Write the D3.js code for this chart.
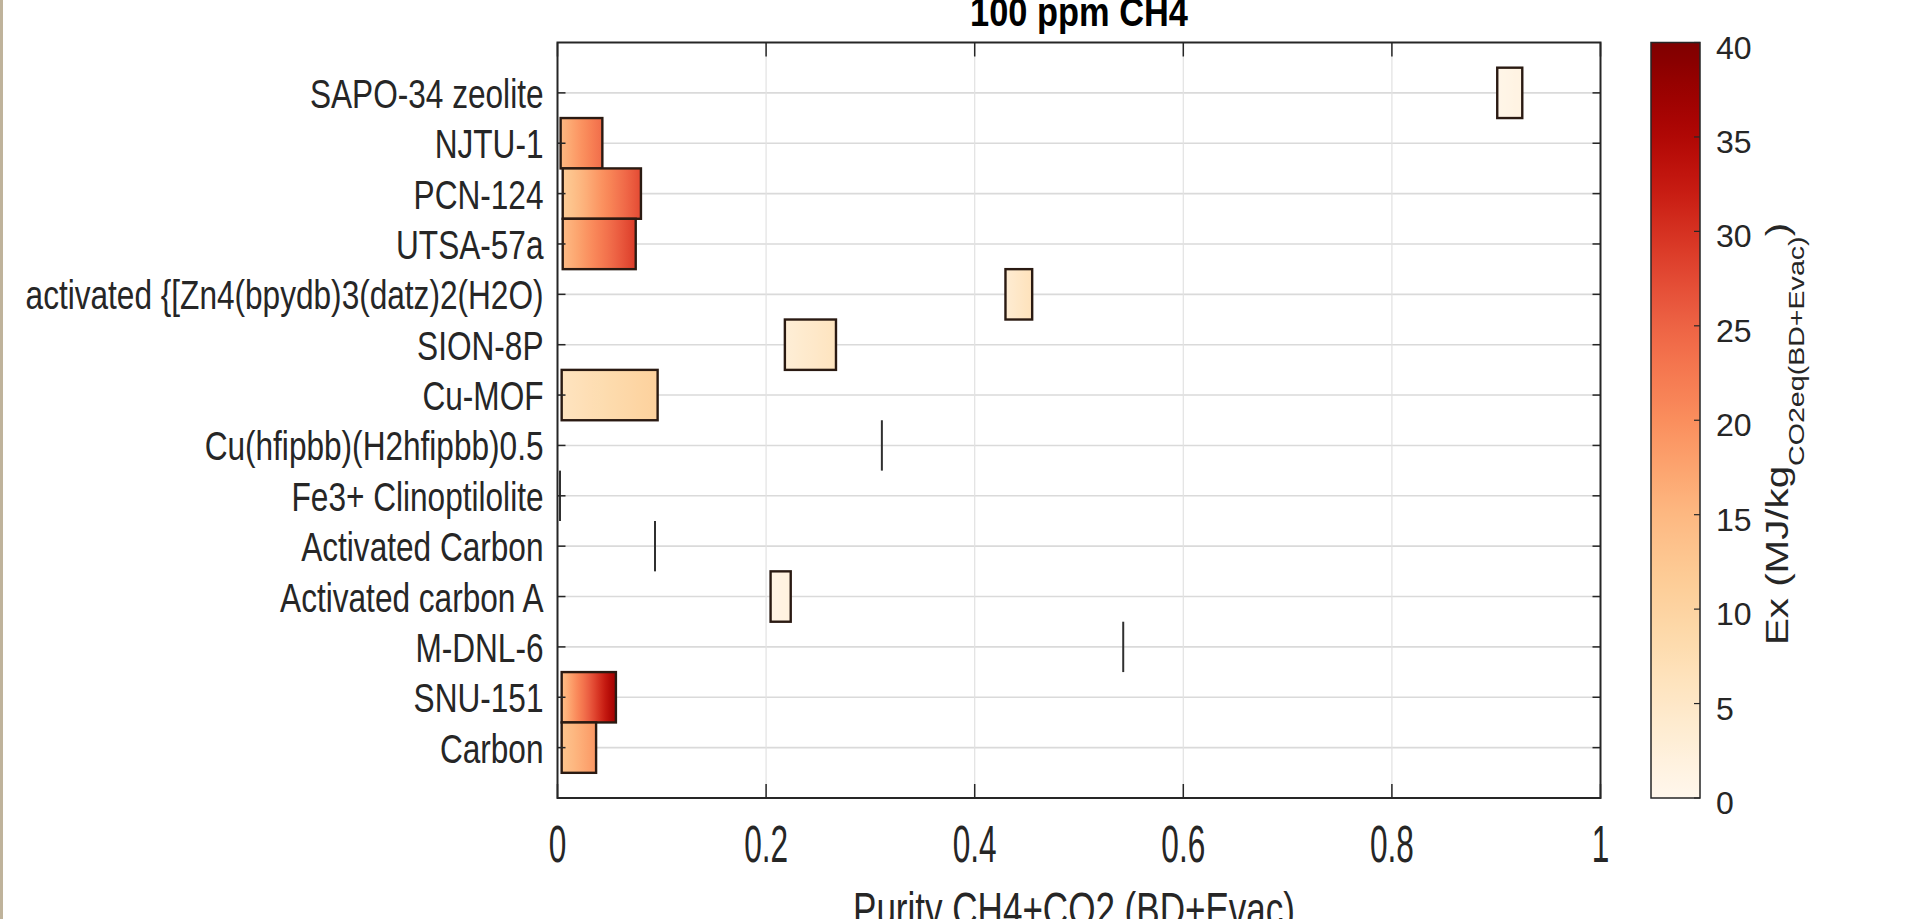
<!DOCTYPE html>
<html>
<head>
<meta charset="utf-8">
<script src="https://cdn.jsdelivr.net/npm/d3@7"></script>
<style>
  html, body { margin: 0; padding: 0; background: #ffffff; }
  svg { display: block; }
  text { font-family: "Liberation Sans", Arial, Helvetica, sans-serif; fill: #262626; }
</style>
</head>
<body>
<div id="chart"></div>
<script>
// ---- data ----
const categories = [
  "SAPO-34 zeolite",
  "NJTU-1",
  "PCN-124",
  "UTSA-57a",
  "activated {[Zn4(bpydb)3(datz)2(H2O)",
  "SION-8P",
  "Cu-MOF",
  "Cu(hfipbb)(H2hfipbb)0.5",
  "Fe3+ Clinoptilolite",
  "Activated Carbon",
  "Activated carbon A",
  "M-DNL-6",
  "SNU-151",
  "Carbon"
];
// purity range (x) per material
const purityMin = [0.901, 0.003, 0.005, 0.005, 0.4295, 0.218, 0.004, 0.311, 0.0024, 0.0935, 0.2043, 0.5424, 0.004, 0.004];
const purityMax = [0.925, 0.043, 0.080, 0.075, 0.4551, 0.267, 0.096, 0.311, 0.0024, 0.0935, 0.2236, 0.5424, 0.056, 0.037];
// exergy range (colour) per material, MJ/kg
const exMin = [0.5, 15, 11.5, 14.5, 3.5, 3.0, 6.0, 0, 0, 0, 1.0, 0, 14, 13];
const exMax = [1.5, 24, 27.5, 29.0, 6.5, 6.0, 10.5, 0, 0, 0, 2.0, 0, 37, 19];

const xTickValues = [0, 0.2, 0.4, 0.6, 0.8, 1];
const xTickLabels = ["0", "0.2", "0.4", "0.6", "0.8", "1"];
const cbTickValues = [0, 5, 10, 15, 20, 25, 30, 35, 40];
const cbTickLabels = ["0", "5", "10", "15", "20", "25", "30", "35", "40"];

const titleText = "100 ppm CH4";
const xLabelText = "Purity CH4+CO2 (BD+Evac)";
const cbLabelMain = "Ex (MJ/kg";
const cbLabelSub = "CO2eq(BD+Evac)";
const cbLabelEnd = ")";

// ---- layout ----
const W = 1909, H = 919;
const plot = { left: 557.5, right: 1600.5, top: 42.5, bottom: 798 };
const cb = { left: 1651, right: 1700 };
const axisColor = "#262626";

const svg = d3.select("#chart").append("svg")
  .attr("width", W).attr("height", H);

svg.append("rect").attr("x", 0).attr("y", 0).attr("width", W).attr("height", H).attr("fill", "#ffffff");
// thin tan strip at the left edge of the reference image
svg.append("rect").attr("x", 0).attr("y", 0).attr("width", 3).attr("height", H).attr("fill", "#bfb39b");

const x = d3.scaleLinear().domain([0, 1]).range([plot.left, plot.right]);
const y = d3.scaleBand().domain(categories).range([plot.top, plot.bottom])
  .paddingInner(0).paddingOuter(0.5);
const yc = d => y(d) + y.bandwidth() / 2;

const color = d3.scaleSequential(d3.interpolateOrRd).domain([0, 40]);

const defs = svg.append("defs");

// ---- grid ----
const grid = svg.append("g");
grid.selectAll("line.gy").data(categories).join("line")
  .attr("x1", plot.left).attr("x2", plot.right)
  .attr("y1", d => yc(d)).attr("y2", d => yc(d))
  .attr("stroke", "#dadada").attr("stroke-width", 1.6);
grid.selectAll("line.gx").data(xTickValues.slice(1, -1)).join("line")
  .attr("x1", d => x(d)).attr("x2", d => x(d))
  .attr("y1", plot.top).attr("y2", plot.bottom)
  .attr("stroke", "#e2e2e2").attr("stroke-width", 1.2);

// ---- bars ----
const rows = categories.map((c, i) => ({
  c, i, p0: purityMin[i], p1: purityMax[i], e0: exMin[i], e1: exMax[i]
}));

rows.forEach(r => {
  const g = defs.append("linearGradient").attr("id", "grad" + r.i)
    .attr("x1", 0).attr("x2", 1).attr("y1", 0).attr("y2", 0);
  d3.range(0, 11).forEach(k => {
    const t = k / 10;
    g.append("stop").attr("offset", t)
      .attr("stop-color", color(r.e0 + (r.e1 - r.e0) * t));
  });
});

const marks = svg.append("g");
marks.selectAll("rect.bar").data(rows.filter(r => r.p1 > r.p0)).join("rect")
  .attr("class", "bar")
  .attr("x", r => x(r.p0))
  .attr("width", r => x(r.p1) - x(r.p0))
  .attr("y", r => y(r.c))
  .attr("height", y.bandwidth())
  .attr("fill", r => `url(#grad${r.i})`)
  .attr("stroke", "#2a1a12").attr("stroke-width", 2.4);

marks.selectAll("line.zero").data(rows.filter(r => r.p1 <= r.p0)).join("line")
  .attr("class", "zero")
  .attr("x1", r => x(r.p0)).attr("x2", r => x(r.p0))
  .attr("y1", r => y(r.c)).attr("y2", r => y(r.c) + y.bandwidth())
  .attr("stroke", "#303030").attr("stroke-width", 2);

// ---- axes box and ticks ----
const ax = svg.append("g");
ax.append("rect")
  .attr("x", plot.left).attr("y", plot.top)
  .attr("width", plot.right - plot.left).attr("height", plot.bottom - plot.top)
  .attr("fill", "none").attr("stroke", axisColor).attr("stroke-width", 2);

// x ticks (bottom and top, pointing inward)
ax.selectAll("line.xtb").data(xTickValues).join("line")
  .attr("x1", d => x(d)).attr("x2", d => x(d))
  .attr("y1", plot.bottom).attr("y2", plot.bottom - 14)
  .attr("stroke", axisColor).attr("stroke-width", 1.5);
ax.selectAll("line.xtt").data(xTickValues).join("line")
  .attr("x1", d => x(d)).attr("x2", d => x(d))
  .attr("y1", plot.top).attr("y2", plot.top + 14)
  .attr("stroke", axisColor).attr("stroke-width", 1.5);
// y ticks (left and right, pointing inward)
ax.selectAll("line.ytl").data(categories).join("line")
  .attr("x1", plot.left).attr("x2", plot.left + 8)
  .attr("y1", d => yc(d)).attr("y2", d => yc(d))
  .attr("stroke", axisColor).attr("stroke-width", 1.5);
ax.selectAll("line.ytr").data(categories).join("line")
  .attr("x1", plot.right).attr("x2", plot.right - 8)
  .attr("y1", d => yc(d)).attr("y2", d => yc(d))
  .attr("stroke", axisColor).attr("stroke-width", 1.5);

// y tick labels (condensed)
ax.selectAll("text.ylab").data(categories).join("text")
  .attr("class", "ylab")
  .attr("transform", d => `translate(${plot.left - 14},${yc(d) + 15}) scale(0.79,1)`)
  .attr("text-anchor", "end")
  .style("font-size", "40px")
  .text(d => d);

// x tick labels
ax.selectAll("text.xlab").data(xTickValues).join("text")
  .attr("class", "xlab")
  .attr("transform", d => `translate(${x(d)},862) scale(0.62,1)`)
  .attr("text-anchor", "middle")
  .style("font-size", "51px")
  .text((d, i) => xTickLabels[i]);

// x axis title (partly cut by the bottom edge, as in the reference)
svg.append("text")
  .attr("transform", `translate(${(plot.left + plot.right) / 2 - 5},926) scale(0.73,1)`)
  .attr("text-anchor", "middle")
  .style("font-size", "48px")
  .text(xLabelText);

// title (partly cut by the top edge, as in the reference)
svg.append("text")
  .attr("transform", `translate(${(plot.left + plot.right) / 2},26) scale(0.86,1)`)
  .attr("text-anchor", "middle")
  .style("font-size", "40px").style("font-weight", "bold")
  .style("fill", "#000")
  .text(titleText);

// ---- colorbar ----
const cy = d3.scaleLinear().domain([0, 40]).range([plot.bottom, plot.top]);
const cg = defs.append("linearGradient").attr("id", "cbgrad")
  .attr("x1", 0).attr("x2", 0).attr("y1", 1).attr("y2", 0);
d3.range(0, 41).forEach(k => {
  cg.append("stop").attr("offset", k / 40).attr("stop-color", color(k));
});
svg.append("rect")
  .attr("x", cb.left).attr("y", cy(40))
  .attr("width", cb.right - cb.left).attr("height", cy(0) - cy(40))
  .attr("fill", "url(#cbgrad)")
  .attr("stroke", axisColor).attr("stroke-width", 1.5);
svg.selectAll("line.cbt").data(cbTickValues).join("line")
  .attr("x1", cb.right).attr("x2", cb.right - 6)
  .attr("y1", d => cy(d)).attr("y2", d => cy(d))
  .attr("stroke", axisColor).attr("stroke-width", 1.2);
svg.selectAll("text.cbl").data(cbTickValues).join("text")
  .attr("x", cb.right + 16).attr("y", d => cy(d) + 16)
  .style("font-size", "32px")
  .text((d, i) => cbTickLabels[i]);

// colorbar label (rotated, with subscript)
const cbl = svg.append("text")
  .attr("transform", "translate(1788,645) rotate(-90) scale(1.3,1)")
  .style("font-size", "31px");
cbl.append("tspan").text(cbLabelMain);
cbl.append("tspan").attr("dy", 16).style("font-size", "22px").text(cbLabelSub);
cbl.append("tspan").attr("dy", -16).text(cbLabelEnd);
</script>
</body>
</html>
